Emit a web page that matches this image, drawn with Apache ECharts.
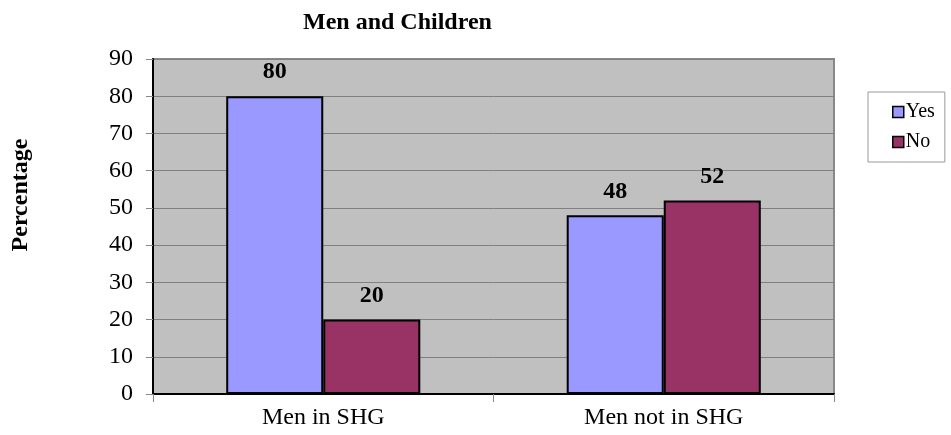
<!DOCTYPE html>
<html>
<head>
<meta charset="utf-8">
<script src="https://cdn.jsdelivr.net/npm/echarts@6/dist/echarts.min.js"></script>
<style>
  html, body { margin: 0; padding: 0; background: #fff; }
  #chart { width: 951px; height: 435px; }
</style>
</head>
<body>
<div id="chart"></div>
<script>
const categories = ['Men in SHG', 'Men not in SHG'];
const seriesNames = ['Yes', 'No'];
const yesValues = [80, 48];
const noValues = [20, 52];
const seriesColors = ['#9999FF', '#993366'];

const serif = 'Liberation Serif, Times New Roman, serif';

function makeSeries(name, values, color) {
    return {
        name: name,
        type: 'bar',
        data: values,
        barGap: '0%',
        barCategoryGap: '43%',
        itemStyle: {
            color: color,
            borderColor: '#000',
            borderWidth: 2
        },
        label: {
            show: true,
            position: 'top',
            distance: 12,
            color: '#000',
            fontFamily: serif,
            fontWeight: 'bold',
            fontSize: 24
        }
    };
}

const chart = echarts.init(document.getElementById('chart'));
chart.setOption({
    animation: false,
    title: {
        text: 'Men and Children',
        left: 298,
        top: 6,
        textStyle: {
            fontFamily: serif,
            fontWeight: 'bold',
            fontSize: 24,
            color: '#000'
        }
    },
    legend: {
        orient: 'vertical',
        left: 868,
        top: 92,
        padding: [10, 10, 10, 24],
        itemGap: 10,
        itemWidth: 11,
        itemHeight: 11,
        borderColor: '#999',
        borderWidth: 1,
        icon: 'rect',
        data: seriesNames,
        itemStyle: { borderColor: '#000', borderWidth: 1.5 },
        textStyle: {
            fontFamily: serif,
            fontSize: 20,
            color: '#000',
            padding: [0, 0, 0, -3]
        }
    },
    grid: {
        left: 153,
        right: 117,
        top: 59,
        bottom: 41,
        show: true,
        backgroundColor: '#C0C0C0',
        borderColor: '#888',
        borderWidth: 2
    },
    graphic: [{
        type: 'text',
        x: 21,
        y: 195,
        rotation: Math.PI / 2,
        style: {
            text: 'Percentage',
            fontFamily: serif,
            fontWeight: 'bold',
            fontSize: 24,
            fill: '#000',
            align: 'center',
            verticalAlign: 'middle'
        }
    }],
    xAxis: {
        type: 'category',
        data: categories,
        axisLine: { lineStyle: { color: '#000', width: 2 } },
        axisTick: { show: true, length: 8, lineStyle: { color: '#888' } },
        axisLabel: {
            margin: 12,
            fontFamily: serif,
            fontSize: 24,
            color: '#000'
        }
    },
    yAxis: {
        type: 'value',
        min: 0,
        max: 90,
        interval: 10,
        axisLine: { show: true, lineStyle: { color: '#000', width: 2 } },
        axisTick: { show: true, length: 7, lineStyle: { color: '#888' } },
        splitLine: { show: true, lineStyle: { color: '#808080', width: 1 } },
        axisLabel: {
            margin: 20,
            fontFamily: serif,
            fontSize: 24,
            color: '#000'
        }
    },
    series: [
        makeSeries(seriesNames[0], yesValues, seriesColors[0]),
        makeSeries(seriesNames[1], noValues, seriesColors[1])
    ]
});
</script>
</body>
</html>
